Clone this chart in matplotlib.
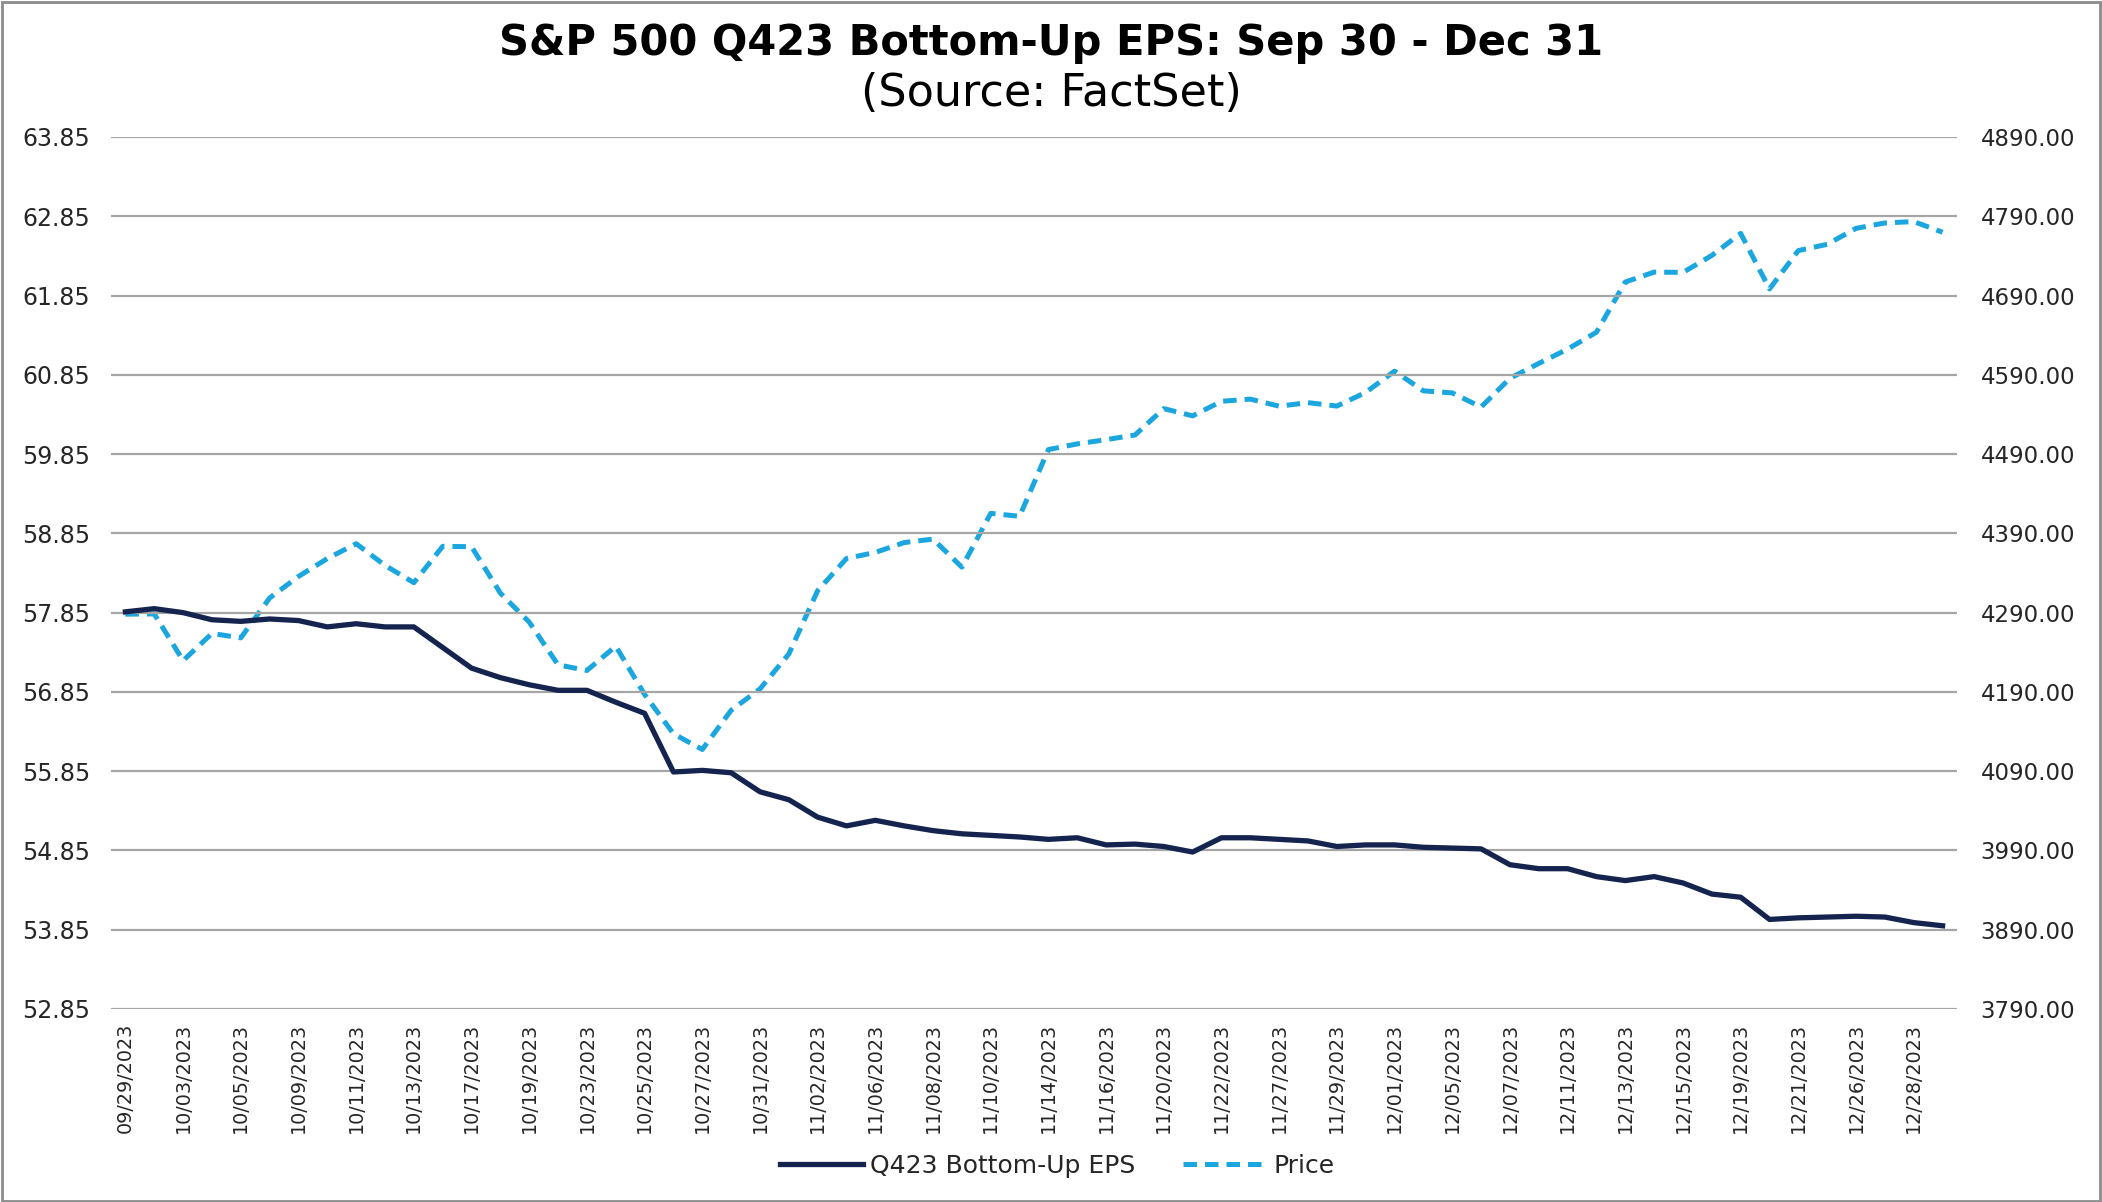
import matplotlib
matplotlib.use("Agg")
import matplotlib.pyplot as plt
from matplotlib.patches import Rectangle
from matplotlib.lines import Line2D

# the source chart has wide, stretched lettering, DejaVu Sans is the closest fit
plt.rcParams['font.family'] = ['DejaVu Sans']

# trading days, Sep 29 - Dec 29 2023
dates = [
    "09/29/2023", "10/02/2023", "10/03/2023", "10/04/2023", "10/05/2023", "10/06/2023",
    "10/09/2023", "10/10/2023", "10/11/2023", "10/12/2023", "10/13/2023", "10/16/2023",
    "10/17/2023", "10/18/2023", "10/19/2023", "10/20/2023", "10/23/2023", "10/24/2023",
    "10/25/2023", "10/26/2023", "10/27/2023", "10/30/2023", "10/31/2023", "11/01/2023",
    "11/02/2023", "11/03/2023", "11/06/2023", "11/07/2023", "11/08/2023", "11/09/2023",
    "11/10/2023", "11/13/2023", "11/14/2023", "11/15/2023", "11/16/2023", "11/17/2023",
    "11/20/2023", "11/21/2023", "11/22/2023", "11/24/2023", "11/27/2023", "11/28/2023",
    "11/29/2023", "11/30/2023", "12/01/2023", "12/04/2023", "12/05/2023", "12/06/2023",
    "12/07/2023", "12/08/2023", "12/11/2023", "12/12/2023", "12/13/2023", "12/14/2023",
    "12/15/2023", "12/18/2023", "12/19/2023", "12/20/2023", "12/21/2023", "12/22/2023",
    "12/26/2023", "12/27/2023", "12/28/2023", "12/29/2023",
]

eps = [
    57.86, 57.90, 57.85, 57.76, 57.74, 57.77, 57.75, 57.67, 57.71, 57.67,
    57.67, 57.41, 57.15, 57.03, 56.94, 56.87, 56.87, 56.72, 56.58, 55.84,
    55.86, 55.83, 55.59, 55.49, 55.27, 55.16, 55.23, 55.16, 55.10, 55.06,
    55.04, 55.02, 54.99, 55.01, 54.92, 54.93, 54.90, 54.83, 55.01, 55.01,
    54.99, 54.97, 54.90, 54.92, 54.92, 54.89, 54.88, 54.87, 54.67, 54.62,
    54.62, 54.52, 54.47, 54.52, 54.44, 54.30, 54.26, 53.98, 54.00, 54.01,
    54.02, 54.01, 53.94, 53.90,
]

price = [
    4288.05, 4288.39, 4229.45, 4263.75, 4258.19, 4308.50, 4335.66, 4358.24, 4376.95, 4349.61,
    4327.78, 4373.63, 4373.20, 4314.60, 4278.00, 4224.16, 4217.04, 4247.68, 4186.77, 4137.23,
    4117.37, 4166.82, 4193.80, 4237.86, 4317.78, 4358.34, 4365.98, 4378.38, 4382.78, 4347.35,
    4415.24, 4411.55, 4495.70, 4502.88, 4508.24, 4514.02, 4547.38, 4538.19, 4556.62, 4559.34,
    4550.43, 4554.89, 4550.58, 4567.80, 4594.63, 4569.78, 4567.18, 4549.34, 4585.59, 4604.37,
    4622.44, 4643.70, 4707.09, 4719.55, 4719.19, 4740.56, 4768.37, 4698.35, 4746.75, 4754.63,
    4774.75, 4781.58, 4783.35, 4769.83,
]

eps_ticks = [52.85, 53.85, 54.85, 55.85, 56.85, 57.85, 58.85, 59.85, 60.85, 61.85, 62.85, 63.85]
price_ticks = [3790, 3890, 3990, 4090, 4190, 4290, 4390, 4490, 4590, 4690, 4790, 4890]

eps_color = '#14244e'
price_color = '#1ba6e0'
text_color = '#262626'
dash = (0, (2.7, 1.6))

fig = plt.figure(figsize=(21.02, 12.02), dpi=100)
ax = fig.add_axes([111 / 2102, 1 - 1009 / 1202, 1846 / 2102, 872 / 1202])
ax2 = ax.twinx()

x = list(range(len(dates)))

ax.set_ylim(eps_ticks[0], eps_ticks[-1])
ax.set_yticks(eps_ticks)
ax.set_yticklabels([f"{v:.2f}" for v in eps_ticks])
ax.grid(axis='y', color='#a6a6a6', linewidth=1.6)
ax.set_axisbelow(True)

ax2.set_ylim(price_ticks[0], price_ticks[-1])
ax2.set_yticks(price_ticks)
ax2.set_yticklabels([f"{v:.2f}" for v in price_ticks])

ax.set_xlim(-0.5, len(dates) - 0.5)
ax.set_xticks(x[::2])
ax.set_xticklabels(dates[::2], rotation=90)

ax2.plot(x, price, color=price_color, linewidth=3.6, linestyle=dash, zorder=2)
ax.plot(x, eps, color=eps_color, linewidth=3.8, zorder=3)
ax.set_zorder(ax2.get_zorder() + 1)
ax.patch.set_visible(False)

for a in (ax, ax2):
    for s in a.spines.values():
        s.set_visible(False)
ax.tick_params(axis='y', length=0, pad=15, labelsize=17, labelcolor=text_color)
ax.tick_params(axis='x', length=0, pad=10, labelsize=13.8, labelcolor=text_color)
ax2.tick_params(axis='y', length=0, pad=17, labelsize=16.5, labelcolor=text_color)

fig.text(0.5, 1 - 43 / 1202, "S&P 500 Q423 Bottom-Up EPS: Sep 30 - Dec 31",
         ha='center', va='center', fontsize=30, fontweight='bold', color='black')
fig.text(0.5, 1 - 93 / 1202, "(Source: FactSet)",
         ha='center', va='center', fontsize=32, color='black')

handles = [
    Line2D([], [], color=eps_color, linewidth=3.8),
    Line2D([], [], color=price_color, linewidth=3.6, linestyle=dash),
]
fig.legend(handles, ["Q423 Bottom-Up EPS", "Price"], loc='center',
           bbox_to_anchor=(0.503, 1 - 1166 / 1202), ncol=2, frameon=False,
           fontsize=18, handlelength=3.3, handletextpad=0.3, columnspacing=1.9,
           labelcolor=text_color)

# outer chart border
fig.patches.append(Rectangle((0.001, 0.001), 0.998, 0.997, transform=fig.transFigure,
                             fill=False, edgecolor='#8c8c8c', linewidth=2))

fig.savefig("out.png", dpi=100)
